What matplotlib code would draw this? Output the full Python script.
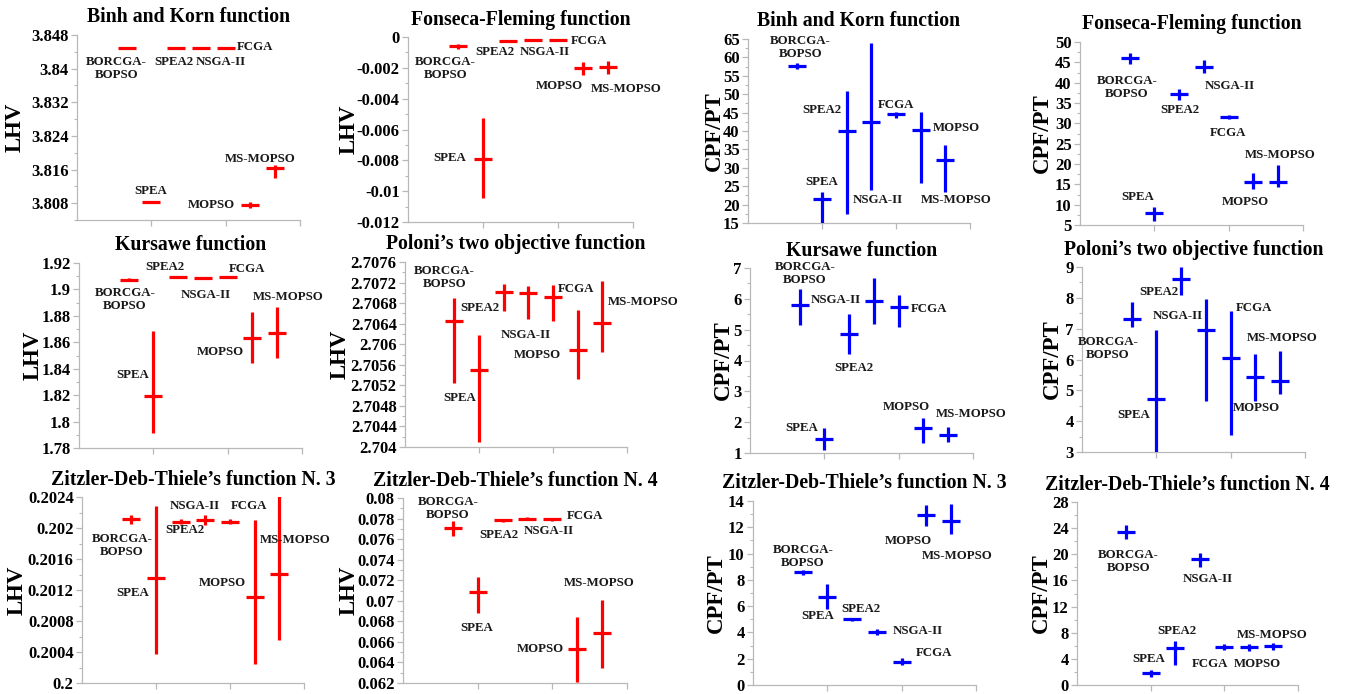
import numpy as np
import matplotlib
matplotlib.use("Agg")
import matplotlib.pyplot as plt
from matplotlib.ticker import MultipleLocator, FuncFormatter

plt.rcParams['font.family'] = ['Liberation Serif', 'DejaVu Serif']
plt.rcParams['font.weight'] = 'bold'

ALGORITHMS = ["BORCGA-\nBOPSO", "SPEA", "SPEA2", "NSGA-II", "FCGA", "MOPSO", "MS-MOPSO"]

# ---- LHV panels (red) ----
bk_lhv_mean = [3.84483, 3.80832, 3.84499, 3.84499, 3.84499, 3.80760, 3.81632]
bk_lhv_lo = [0, 0, 0, 0, 0, 0.0008, 0.0024]
bk_lhv_hi = [0, 0, 0, 0, 0, 0.0008, 0.0008]

ff_lhv_mean = [-0.00061, -0.00794, -0.00024, -0.00017, -0.00017, -0.00202, -0.00197]
ff_lhv_lo = [0.00017, 0.0025, 0.00005, 0, 0, 0.00043, 0.00042]
ff_lhv_hi = [0.00017, 0.0027, 0.00005, 0, 0, 0.00043, 0.00042]

ku_lhv_mean = [1.9074, 1.8196, 1.9094, 1.9089, 1.9094, 1.8635, 1.8670]
ku_lhv_lo = [0.001, 0.028, 0.0008, 0.0008, 0.0008, 0.0189, 0.0189]
ku_lhv_hi = [0.001, 0.0487, 0.0008, 0.0008, 0.0008, 0.0194, 0.0197]

po_lhv_mean = [2.70645, 2.70549, 2.70702, 2.70700, 2.70692, 2.70588, 2.70642]
po_lhv_lo = [0.0012, 0.0014, 0.00038, 0.0005, 0.00047, 0.00056, 0.00058]
po_lhv_hi = [0.00045, 0.00069, 0.00016, 0.00014, 0.00023, 0.00078, 0.00082]

z3_lhv_mean = [0.20211, 0.20136, 0.20208, 0.20210, 0.20208, 0.20111, 0.20141]
z3_lhv_lo = [0.00006, 0.00099, 0.00003, 0.00006, 0.00003, 0.00087, 0.00085]
z3_lhv_hi = [0.00006, 0.00092, 0.00003, 0.00007, 0.00003, 0.00099, 0.00100]

z4_lhv_mean = [0.07707, 0.07082, 0.07782, 0.07798, 0.07792, 0.06529, 0.06688]
z4_lhv_lo = [0.00075, 0.0020, 0.00015, 0.00015, 0.00015, 0.0032, 0.0034]
z4_lhv_hi = [0.00065, 0.00146, 0.00015, 0.00015, 0.00015, 0.0031, 0.0032]

# ---- CPF/PT panels (blue) ----
bk_cpf_mean = [57.65, 21.62, 40.05, 42.5, 44.5, 40.4, 32.2]
bk_cpf_lo = [0.8, 6.5, 22.7, 18.6, 1.1, 14.5, 8.8]
bk_cpf_hi = [0.8, 1.7, 10.9, 21.3, 0.7, 4.8, 3.9]

ff_cpf_mean = [46.15, 8.02, 37.3, 43.86, 31.6, 15.55, 15.55]
ff_cpf_lo = [1.5, 2.0, 1.5, 1.6, 0.5, 1.8, 1.1]
ff_cpf_hi = [1.15, 1.5, 1.2, 1.6, 0.5, 2.3, 4.2]

ku_cpf_mean = [5.81, 1.465, 4.87, 5.92, 5.74, 1.82, 1.595]
ku_cpf_lo = [0.67, 0.38, 0.65, 0.73, 0.65, 0.49, 0.24]
ku_cpf_hi = [0.52, 0.35, 0.65, 0.76, 0.38, 0.31, 0.25]

po_cpf_mean = [7.32, 4.71, 8.6, 6.95, 6.06, 5.43, 5.29]
po_cpf_lo = [0.27, 1.75, 0.52, 2.28, 2.52, 0.76, 0.4]
po_cpf_hi = [0.56, 2.24, 0.4, 1.0, 1.5, 0.76, 0.98]

z3_cpf_mean = [8.56, 6.67, 4.99, 4.04, 1.78, 12.92, 12.49]
z3_cpf_lo = [0.2, 0.88, 0.1, 0.2, 0.25, 0.8, 1.0]
z3_cpf_hi = [0.2, 1.05, 0.1, 0.25, 0.25, 0.75, 1.25]

z4_cpf_mean = [23.47, 1.76, 5.63, 19.35, 5.88, 5.78, 5.93]
z4_cpf_lo = [1.1, 0.5, 2.6, 1.26, 0.5, 0.6, 0.55]
z4_cpf_hi = [1.0, 0.5, 1.16, 0.9, 0.4, 0.5, 0.5]

TITLES = ["Binh and Korn function", "Fonseca-Fleming function",
          "Binh and Korn function", "Fonseca-Fleming function",
          "Kursawe function", "Poloni\u2019s two objective function",
          "Kursawe function", "Poloni\u2019s two objective function",
          "Zitzler-Deb-Thiele\u2019s function N. 3", "Zitzler-Deb-Thiele\u2019s function N. 4",
          "Zitzler-Deb-Thiele\u2019s function N. 3", "Zitzler-Deb-Thiele\u2019s function N. 4"]

# ---- layout / style (pixels: left, top, right, bottom) ----
BOXES = [(77, 35, 300, 220), (408, 37, 633, 222), (748, 39, 970, 223), (1080, 42, 1303, 225),
         (79, 263, 302, 448), (405, 262, 627, 447), (750, 268, 973, 453), (1082, 267, 1305, 452),
         (82, 497, 304, 683), (403, 498, 627, 683), (753, 501, 976, 685), (1077, 502, 1298, 685)]
YLIMS = [(3.804, 3.848, 0.008), (-0.012, 0.0, 0.002), (15, 65, 5), (5, 50, 5),
         (1.78, 1.92, 0.02), (2.704, 2.7076, 0.0004), (1, 7, 1), (3, 9, 1),
         (0.2, 0.2024, 0.0004), (0.062, 0.08, 0.002), (0, 14, 2), (0, 28, 4)]
YLABEL_X = [-0.278, -0.26, -0.152, -0.168, -0.206, -0.29, -0.118, -0.135,
            -0.29, -0.24, -0.166, -0.16]

# label positions (data coords) for each panel
LBL_X = [[0.53, 0.99, 1.30, 1.94, 2.40, 1.81, 2.47],
         [0.50, 0.55, 1.16, 1.82, 2.42, 2.02, 2.91],
         [0.71, 0.99, 1.00, 1.75, 2.00, 2.81, 2.81],
         [0.63, 0.77, 1.35, 2.01, 1.99, 2.23, 2.69],
         [0.62, 0.72, 1.16, 1.71, 2.26, 1.90, 2.82],
         [0.53, 0.74, 1.01, 1.63, 2.31, 1.79, 3.22],
         [0.74, 0.69, 1.40, 1.16, 2.41, 2.10, 2.97],
         [0.35, 0.69, 1.03, 1.29, 2.31, 2.34, 2.70],
         [0.54, 0.69, 1.39, 1.53, 2.26, 1.90, 2.88],
         [0.60, 0.99, 1.29, 1.95, 2.44, 1.84, 2.63],
         [0.67, 0.87, 1.45, 2.21, 2.43, 2.09, 2.75],
         [0.70, 0.97, 1.36, 1.78, 1.81, 2.45, 2.65]]
LBL_Y = [[3.8401, 3.8110, 3.8415, 3.8415, 3.8452, 3.8076, 3.8185],
         [-0.00202, -0.00788, -0.0010, -0.0010, -0.00028, -0.00317, -0.00339],
         [62.7, 26.2, 45.7, 21.2, 47.0, 40.7, 21.2],
         [38.8, 11.95, 33.2, 39.1, 27.7, 10.7, 22.3],
         [1.8925, 1.8355, 1.9170, 1.8955, 1.9157, 1.8526, 1.8943],
         [2.70729, 2.70495, 2.7067, 2.70617, 2.70707, 2.7058, 2.70683],
         [6.82, 1.81, 3.76, 5.95, 5.66, 2.49, 2.28],
         [6.37, 4.19, 8.19, 7.41, 7.67, 4.43, 6.70],
         [0.20177, 0.20116, 0.20197, 0.20228, 0.20228, 0.20129, 0.20185],
         [0.07902, 0.06731, 0.07642, 0.07681, 0.07827, 0.06535, 0.0717],
         [9.81, 5.22, 5.80, 4.09, 2.46, 10.99, 9.81],
         [18.95, 4.02, 8.19, 16.24, 3.26, 3.26, 7.69]]

SERIES = [(bk_lhv_mean, bk_lhv_lo, bk_lhv_hi), (ff_lhv_mean, ff_lhv_lo, ff_lhv_hi),
          (bk_cpf_mean, bk_cpf_lo, bk_cpf_hi), (ff_cpf_mean, ff_cpf_lo, ff_cpf_hi),
          (ku_lhv_mean, ku_lhv_lo, ku_lhv_hi), (po_lhv_mean, po_lhv_lo, po_lhv_hi),
          (ku_cpf_mean, ku_cpf_lo, ku_cpf_hi), (po_cpf_mean, po_cpf_lo, po_cpf_hi),
          (z3_lhv_mean, z3_lhv_lo, z3_lhv_hi), (z4_lhv_mean, z4_lhv_lo, z4_lhv_hi),
          (z3_cpf_mean, z3_cpf_lo, z3_cpf_hi), (z4_cpf_mean, z4_cpf_lo, z4_cpf_hi)]

W, H = 1350, 694
fig = plt.figure(figsize=(W / 100, H / 100), dpi=100)
SPINE = '#b8b8b8'
fmt = FuncFormatter(lambda v, p: f"{round(v, 8) + 0.0:g}")

x = np.arange(len(ALGORITHMS)) / 3 + 2 / 3

for i in range(12):
    l, t, r, b = BOXES[i]
    ax = fig.add_axes([l / W, 1 - b / H, (r - l) / W, (b - t) / H])
    mean, lo, hi = SERIES[i]
    is_lhv = (i % 4) < 2
    color = '#ff0000' if is_lhv else '#0000ff'
    ax.errorbar(x, mean, yerr=[lo, hi], fmt='none', ecolor=color,
                elinewidth=2.3, capsize=0, zorder=3)
    ax.plot(x, mean, ls='none', marker='_', ms=13, mew=2.3, color=color, zorder=4)
    for j, name in enumerate(ALGORITHMS):
        ax.text(LBL_X[i][j], LBL_Y[i][j], name, ha='center', va='center',
                multialignment='center', fontsize=9.3, fontweight='bold',
                color='#1a1a1a', linespacing=1.1, zorder=5)
    y0, y1, step = YLIMS[i]
    ax.set_ylim(y0, y1)
    ax.set_xlim(0, 3)
    ax.yaxis.set_major_locator(MultipleLocator(step))
    ax.yaxis.set_minor_locator(MultipleLocator(step / 2))
    ax.yaxis.set_major_formatter(fmt)
    ax.set_xticks([1, 2, 3])
    ax.set_xticklabels([])
    for s in ['top', 'right']:
        ax.spines[s].set_visible(False)
    for s in ['left', 'bottom']:
        ax.spines[s].set_color(SPINE)
        ax.spines[s].set_linewidth(0.9)
    ax.tick_params(axis='both', which='major', direction='out', length=4,
                   width=0.9, color=SPINE, labelsize=12, pad=2)
    ax.tick_params(axis='y', which='minor', direction='out', length=2.5,
                   width=0.8, color=SPINE)
    for lab in ax.get_yticklabels():
        lab.set_fontweight('bold')
    ax.set_title(TITLES[i], fontsize=14.2, fontweight='bold', pad=9)
    ax.set_ylabel("LHV" if is_lhv else "CPF/PT", fontsize=16.5, fontweight='bold', va='center')
    ax.yaxis.set_label_coords(YLABEL_X[i], 0.5)
    ax.patch.set_alpha(0)

fig.savefig("out.png", dpi=100)
